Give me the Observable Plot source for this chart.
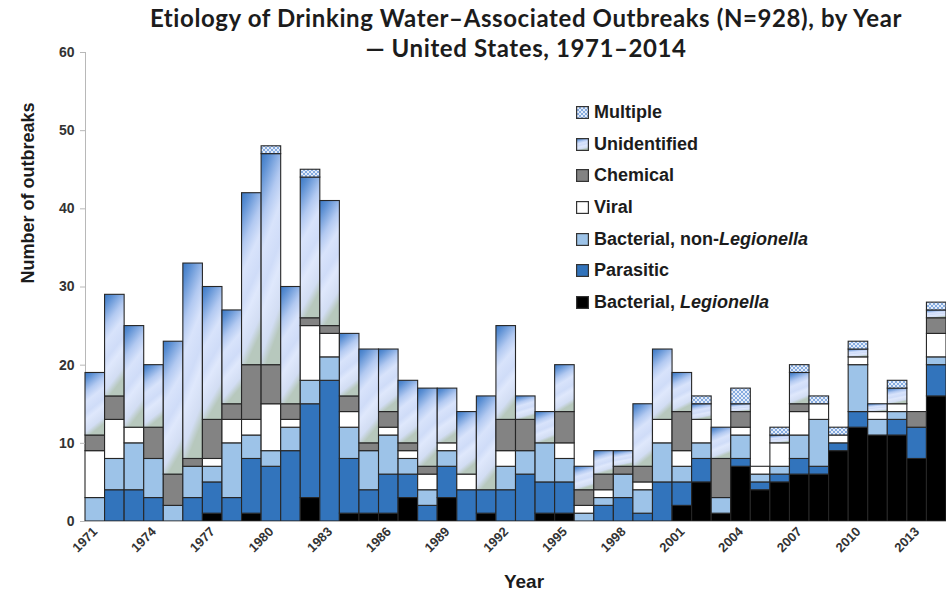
<!DOCTYPE html>
<html>
<head>
<meta charset="utf-8">
<script src="https://cdn.jsdelivr.net/npm/d3@7"></script>
<script src="https://cdn.jsdelivr.net/npm/@observablehq/plot@0.6"></script>
<style>
  html, body { margin: 0; padding: 0; background: #fff; }
  #wrap { position: relative; width: 946px; height: 595px; overflow: hidden; font-family: "Liberation Sans", Arial, sans-serif; }
  #chart { position: absolute; left: 0; top: 0; }
  .title { position: absolute; left: 86px; width: 880px; text-align: center; font-family: Lato, "Open Sans", sans-serif; font-weight: bold; font-size: 24px; letter-spacing: 0.6px; color: #1c1c1c; line-height: 26px; height: 26px; white-space: nowrap; }
  .t1 { top: 5px; }
  .t2 { top: 35px; }
  .ylabel { position: absolute; left: 28px; top: 193px; transform: translate(-50%, -50%) rotate(-90deg); white-space: nowrap; font-weight: bold; font-size: 18px; color: #1c1c1c; }
  .xlabel { position: absolute; left: 524px; top: 582px; transform: translate(-50%, -50%); font-weight: bold; font-size: 19px; color: #1c1c1c; }
  .legend { position: absolute; left: 576px; top: 97px; }
  .legend .item { height: 31.6px; display: flex; align-items: center; font-weight: bold; font-size: 18px; color: #1c1c1c; white-space: nowrap; }
  .legend svg { width: 13px; height: 13px; margin-right: 5px; flex: none; }
</style>
</head>
<body>
<div id="wrap">
  <div id="chart"></div>
  <div class="title t1">Etiology of Drinking Water–Associated Outbreaks (N=928), by Year</div>
  <div class="title t2">— United States, 1971–2014</div>
  <div class="ylabel">Number of outbreaks</div>
  <div class="xlabel">Year</div>
  <div class="legend" id="legend"></div>
</div>
<script>
const years = [1971,1972,1973,1974,1975,1976,1977,1978,1979,1980,1981,1982,1983,1984,1985,1986,1987,1988,1989,1990,1991,1992,1993,1994,1995,1996,1997,1998,1999,2000,2001,2002,2003,2004,2005,2006,2007,2008,2009,2010,2011,2012,2013,2014];
const xTicks = [1971,1974,1977,1980,1983,1986,1989,1992,1995,1998,2001,2004,2007,2010,2013];
const yTicks = [0,10,20,30,40,50,60];

// causes, listed in the legend's order (top to bottom)
const causes = ["Multiple","Unidentified","Chemical","Viral","Bacterial, non-Legionella","Parasitic","Bacterial, Legionella"];

const legionella   = [0,0,0,0,0,0,1,0,1,0, 0,3,0,1,1,1,3,0,3,0, 1,0,0,1,1,0,0,0,0,0, 2,5,1,7,4,5,6,6,9,12, 11,11,8,16];
const parasitic    = [0,4,4,3,0,3,4,3,7,7, 9,12,18,7,3,5,3,2,4,4, 3,4,6,4,4,0,2,3,1,5, 3,3,0,1,1,1,2,1,1,2, 0,2,4,4];
const bacterialNonLeg = [3,4,6,5,2,4,2,7,3,2, 3,3,3,4,5,5,2,2,2,0, 0,3,3,5,3,1,1,3,3,5, 2,2,2,3,1,1,3,6,0,6, 2,1,0,1];
const viral        = [6,5,2,0,0,0,1,3,2,6, 1,7,3,2,0,1,1,2,1,2, 0,2,0,0,2,1,1,0,1,3, 2,3,0,1,1,3,3,2,1,1, 1,1,0,3];
const chemical     = [2,3,0,4,4,1,5,2,7,5, 2,1,1,2,1,2,1,1,0,0, 0,4,4,0,4,2,2,1,2,0, 5,0,5,2,0,0,1,0,0,0, 0,0,2,2];
const unidentified = [8,13,13,8,17,25,17,12,22,27, 15,18,16,8,12,8,8,10,7,8, 12,12,3,4,6,3,3,2,8,9, 5,2,4,1,0,1,4,0,0,1, 1,2,0,1];
const multiple     = [0,0,0,0,0,0,0,0,0,1, 0,1,0,0,0,0,0,0,0,0, 0,0,0,0,0,0,0,0,0,0, 0,1,0,2,0,1,1,1,1,1, 0,1,0,1];

const seriesByCause = {
  "Multiple": multiple,
  "Unidentified": unidentified,
  "Chemical": chemical,
  "Viral": viral,
  "Bacterial, non-Legionella": bacterialNonLeg,
  "Parasitic": parasitic,
  "Bacterial, Legionella": legionella
};

const fills = {
  "Multiple": "url(#pMult)",
  "Unidentified": "url(#gUnid)",
  "Chemical": "#838383",
  "Viral": "#ffffff",
  "Bacterial, non-Legionella": "#9dc3e8",
  "Parasitic": "#3274bc",
  "Bacterial, Legionella": "#000000"
};

const stackOrder = causes.slice().reverse(); // bottom-up

const data = [];
years.forEach((year, i) => {
  stackOrder.forEach(cause => {
    const v = seriesByCause[cause][i];
    if (v > 0) data.push({year, cause, value: v});
  });
});

const chart = Plot.plot({
  width: 946,
  height: 595,
  marginTop: 52,
  marginBottom: 74,
  marginLeft: 85,
  marginRight: 0,
  style: {fontFamily: '"Liberation Sans", Arial, sans-serif', background: "transparent"},
  x: {type: "band", domain: years, paddingInner: 0, paddingOuter: 0, round: false, axis: null},
  y: {domain: [0, 60], axis: null},
  color: {type: "ordinal", domain: causes, range: causes.map(c => fills[c])},
  marks: [
    Plot.frame({anchor: "left", stroke: "#b8b8b8"}),
    Plot.barY(data, {x: "year", y: "value", fill: "cause", order: stackOrder, stroke: "#262626", strokeWidth: 1.1}),
    Plot.ruleY([0], {stroke: "#b8b8b8"}),
    Plot.axisY({ticks: yTicks, tickSize: 5, tickPadding: 6, stroke: "#b8b8b8", fill: "#333", fontSize: 14, fontWeight: "bold", label: null}),
    Plot.axisX({ticks: xTicks, tickFormat: d => String(d), tickSize: 0, tickPadding: 8, tickRotate: -45, fill: "#333", fontSize: 13, fontWeight: "bold", label: null})
  ]
});

// defs: gradient for Unidentified and hatch pattern for Multiple
const svg = d3.select(chart);
const defs = svg.insert("defs", ":first-child");
const g = defs.append("linearGradient").attr("id", "gUnid")
  .attr("x1", 0).attr("y1", 0).attr("x2", 0.25).attr("y2", 1);
[[0, "#3a78c4"], [0.1, "#5b8fd3"], [0.3, "#b2c9f1"], [0.45, "#d8e3fb"], [0.62, "#cfdcf8"], [0.72, "#dfe8fc"], [0.9, "#d2ddf3"], [1, "#b7c8bd"]]
  .forEach(([o, c]) => g.append("stop").attr("offset", o).attr("stop-color", c));
const p = defs.append("pattern").attr("id", "pMult").attr("patternUnits", "userSpaceOnUse")
  .attr("width", 4).attr("height", 4);
p.append("rect").attr("width", 4).attr("height", 4).attr("fill", "#86ace0");
p.append("path").attr("d", "M0,0L4,4M4,0L0,4").attr("stroke", "#eef3fc").attr("stroke-width", 0.9);

document.getElementById("chart").appendChild(chart);

// legend
const legend = d3.select("#legend");
causes.forEach(c => {
  const item = legend.append("div").attr("class", "item");
  const s = item.append("svg").attr("viewBox", "0 0 13 13");
  s.append("rect").attr("x", 0.6).attr("y", 0.6).attr("width", 11.8).attr("height", 11.8)
    .attr("fill", fills[c]).attr("stroke", "#333").attr("stroke-width", 1.2);
  const label = item.append("span");
  if (c.includes("Legionella")) {
    const pre = c.replace("Legionella", "");
    label.append("span").text(pre);
    label.append("i").text("Legionella");
  } else {
    label.text(c);
  }
});
</script>
</body>
</html>
